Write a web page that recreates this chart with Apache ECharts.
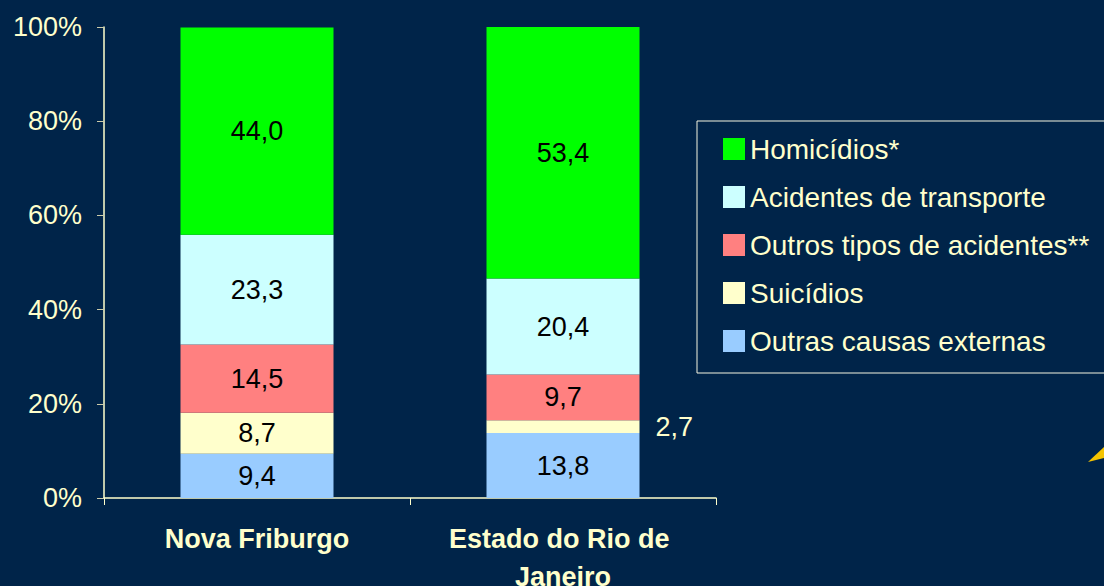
<!DOCTYPE html>
<html>
<head>
<meta charset="utf-8">
<script src="https://cdn.jsdelivr.net/npm/echarts@6/dist/echarts.min.js"></script>
<style>
  html, body { margin: 0; padding: 0; background: #002449; }
  #chart { width: 1104px; height: 586px; }
</style>
</head>
<body>
<div id="chart"></div>
<script>
(function() {
  var categories = ['Nova Friburgo', 'Estado do Rio de Janeiro'];
  var seriesNames = ['Outras causas externas', 'Suicídios', 'Outros tipos de acidentes**', 'Acidentes de transporte', 'Homicídios*'];
  var outrasCausas = [9.4, 13.8];
  var suicidios = [8.7, 2.7];
  var outrosAcidentes = [14.5, 9.7];
  var acidentesTransporte = [23.3, 20.4];
  var homicidios = [44.0, 53.4];
  var yTicks = [0, 20, 40, 60, 80, 100];

  var cream = '#FFFFCC';
  var colors = ['#99CCFF', '#FFFFCC', '#FF8080', '#CCFFFF', '#00FF00'];
  var font = 'Liberation Sans, Arial, sans-serif';

  function fmt(v) { return v.toFixed(1).replace('.', ','); }

  var values = [outrasCausas, suicidios, outrosAcidentes, acidentesTransporte, homicidios];

  var series = values.map(function(arr, i) {
    return {
      name: seriesNames[i],
      type: 'bar',
      stack: 'total',
      barWidth: '50%',
      itemStyle: { color: colors[i] },
      label: {
        show: true,
        position: 'inside',
        color: '#000',
        fontSize: 27,
        fontFamily: font,
        formatter: function(p) { return fmt(p.value); }
      },
      data: arr.map(function(v) {
        // small slice: label sits outside, to the right
        if (v < 5) {
          return {
            value: v,
            label: { position: 'right', distance: 16, color: cream }
          };
        }
        return v;
      })
    };
  });

  var chart = echarts.init(document.getElementById('chart'), null, { renderer: 'svg' });
  chart.setOption({
    animation: false,
    backgroundColor: '#002449',
    grid: { left: 104, right: 388, top: 27, bottom: 88, outerBoundsMode: 'none' },
    legend: {
      orient: 'vertical',
      left: 697,
      top: 121,
      padding: [14, 40, 18, 26],
      borderColor: '#F4F4E0',
      borderWidth: 1,
      itemWidth: 22,
      itemHeight: 22,
      itemGap: 20,
      icon: 'rect',
      data: seriesNames.slice().reverse(),
      textStyle: { color: cream, fontSize: 28, fontFamily: font }
    },
    xAxis: {
      type: 'category',
      data: categories,
      axisLine: { lineStyle: { color: cream, width: 1.5 } },
      axisTick: { show: true, length: 7, lineStyle: { color: cream } },
      axisLabel: {
        color: cream,
        fontSize: 27,
        fontWeight: 'bold',
        fontFamily: font,
        margin: 22,
        lineHeight: 38,
        width: 250,
        overflow: 'break',
        interval: 0
      }
    },
    yAxis: {
      type: 'value',
      min: yTicks[0],
      max: yTicks[yTicks.length - 1],
      interval: 20,
      axisLine: { show: true, lineStyle: { color: cream, width: 1.5 } },
      axisTick: { show: true, length: 7, lineStyle: { color: '#CCCCAA' } },
      splitLine: { show: false },
      axisLabel: {
        color: cream,
        fontSize: 27,
        fontFamily: font,
        margin: 22,
        formatter: '{value}%'
      }
    },
    graphic: [{
      type: 'polygon',
      shape: { points: [[1088, 462], [1104, 447], [1104, 458]] },
      style: { fill: '#F5C400' }
    }],
    series: series
  });
  window.addEventListener('resize', function() { chart.resize(); });
})();
</script>
</body>
</html>
